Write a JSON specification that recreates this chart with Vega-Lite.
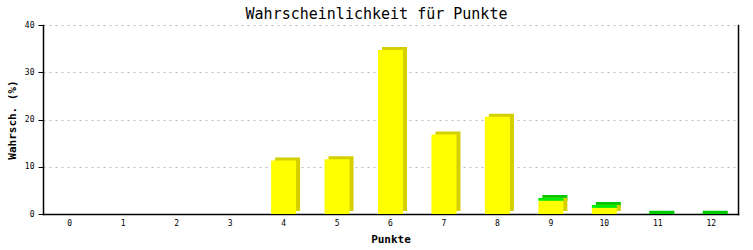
{
  "$schema": "https://vega.github.io/schema/vega-lite/v6.json",
  "width": 695,
  "height": 189,
  "autosize": "none",
  "padding": {"left": 43, "top": 25, "right": 15, "bottom": 36},
  "background": "white",
  "title": {
    "text": "Wahrscheinlichkeit für Punkte",
    "font": "DejaVu Sans Mono",
    "fontSize": 15,
    "fontWeight": "normal",
    "color": "black",
    "anchor": "middle",
    "frame": "group",
    "dx": -14,
    "dy": 6,
    "offset": 5
  },
  "data": {
    "values": [
      {"Punkte": "0", "serie": "a_gelb", "wert": 0},
      {"Punkte": "1", "serie": "a_gelb", "wert": 0},
      {"Punkte": "2", "serie": "a_gelb", "wert": 0},
      {"Punkte": "3", "serie": "a_gelb", "wert": 0},
      {"Punkte": "4", "serie": "a_gelb", "wert": 11.3},
      {"Punkte": "5", "serie": "a_gelb", "wert": 11.6},
      {"Punkte": "6", "serie": "a_gelb", "wert": 34.7},
      {"Punkte": "7", "serie": "a_gelb", "wert": 16.8},
      {"Punkte": "8", "serie": "a_gelb", "wert": 20.6},
      {"Punkte": "9", "serie": "a_gelb", "wert": 2.8},
      {"Punkte": "10", "serie": "a_gelb", "wert": 1.3},
      {"Punkte": "11", "serie": "a_gelb", "wert": 0},
      {"Punkte": "12", "serie": "a_gelb", "wert": 0},
      {"Punkte": "9", "serie": "b_gruen", "wert": 0.6},
      {"Punkte": "10", "serie": "b_gruen", "wert": 0.6},
      {"Punkte": "11", "serie": "b_gruen", "wert": 0.05},
      {"Punkte": "12", "serie": "b_gruen", "wert": 0.05}
    ]
  },
  "transform": [
    {"stack": "wert", "groupby": ["Punkte"], "sort": [{"field": "serie", "order": "ascending"}], "as": ["w0", "w1"]}
  ],
  "encoding": {
    "x": {
      "field": "Punkte",
      "type": "ordinal",
      "sort": ["0","1","2","3","4","5","6","7","8","9","10","11","12"],
      "scale": {"domain": ["0","1","2","3","4","5","6","7","8","9","10","11","12"], "paddingInner": 0, "paddingOuter": 0},
      "axis": {
        "title": "Punkte",
        "titleFont": "DejaVu Sans Mono",
        "titleFontSize": 11,
        "titleFontWeight": "bold",
        "titleColor": "black",
        "titlePadding": 6,
        "labelFont": "DejaVu Sans Mono",
        "labelFontSize": 8,
        "labelColor": "black",
        "labelAngle": 0,
        "labelPadding": 5,
        "ticks": false,
        "domainColor": "black",
        "domainWidth": 1.5
      }
    }
  },
  "layer": [
    {
      "transform": [{"filter": "datum.serie == 'b_gruen'"}],
      "mark": {"type": "bar", "width": 25, "xOffset": 4, "yOffset": -3, "y2Offset": 0, "color": "#00c800"},
      "encoding": {
        "y": {
          "field": "w1", "type": "quantitative",
          "scale": {"domain": [0, 40], "nice": false},
          "axis": {
            "title": "Wahrsch. (%)",
            "titleFont": "DejaVu Sans Mono",
            "titleFontSize": 11,
            "titleFontWeight": "bold",
            "titleColor": "black",
            "titlePadding": 7,
            "labelFont": "DejaVu Sans Mono",
            "labelFontSize": 8,
            "labelColor": "black",
            "labelPadding": 4,
            "values": [0, 10, 20, 30, 40],
            "tickSize": 5,
            "tickColor": "black",
            "domainColor": "black",
            "domainWidth": 1.5,
            "grid": true,
            "gridColor": "#bbbbbb",
            "gridDash": [2, 4]
          }
        },
        "y2": {"field": "w0"}
      }
    },
    {
      "transform": [{"filter": "datum.serie == 'a_gelb'"}],
      "mark": {"type": "bar", "width": 25, "xOffset": 4, "yOffset": -3, "y2Offset": -3, "color": "#d4d000"},
      "encoding": {
        "y": {"field": "w1", "type": "quantitative", "scale": {"domain": [0, 40], "nice": false}, "axis": null},
        "y2": {"field": "w0"}
      }
    },
    {
      "transform": [{"filter": "datum.serie == 'a_gelb'"}],
      "mark": {"type": "bar", "width": 25, "color": "#ffff00"},
      "encoding": {
        "y": {"field": "w1", "type": "quantitative", "scale": {"domain": [0, 40], "nice": false}, "axis": null},
        "y2": {"field": "w0"}
      }
    },
    {
      "transform": [{"filter": "datum.serie == 'b_gruen'"}],
      "mark": {"type": "bar", "width": 25, "color": "#00ee00"},
      "encoding": {
        "y": {
          "field": "w1", "type": "quantitative",
          "scale": {"domain": [0, 40], "nice": false},
          "axis": {"orient": "right", "title": null, "labels": false, "ticks": false, "grid": false, "domainColor": "black", "domainWidth": 1.5}
        },
        "y2": {"field": "w0"}
      }
    }
  ],
  "resolve": {"axis": {"y": "independent"}},
  "config": {
    "view": {"stroke": null},
    "axis": {"domainCap": "square"}
  }
}
